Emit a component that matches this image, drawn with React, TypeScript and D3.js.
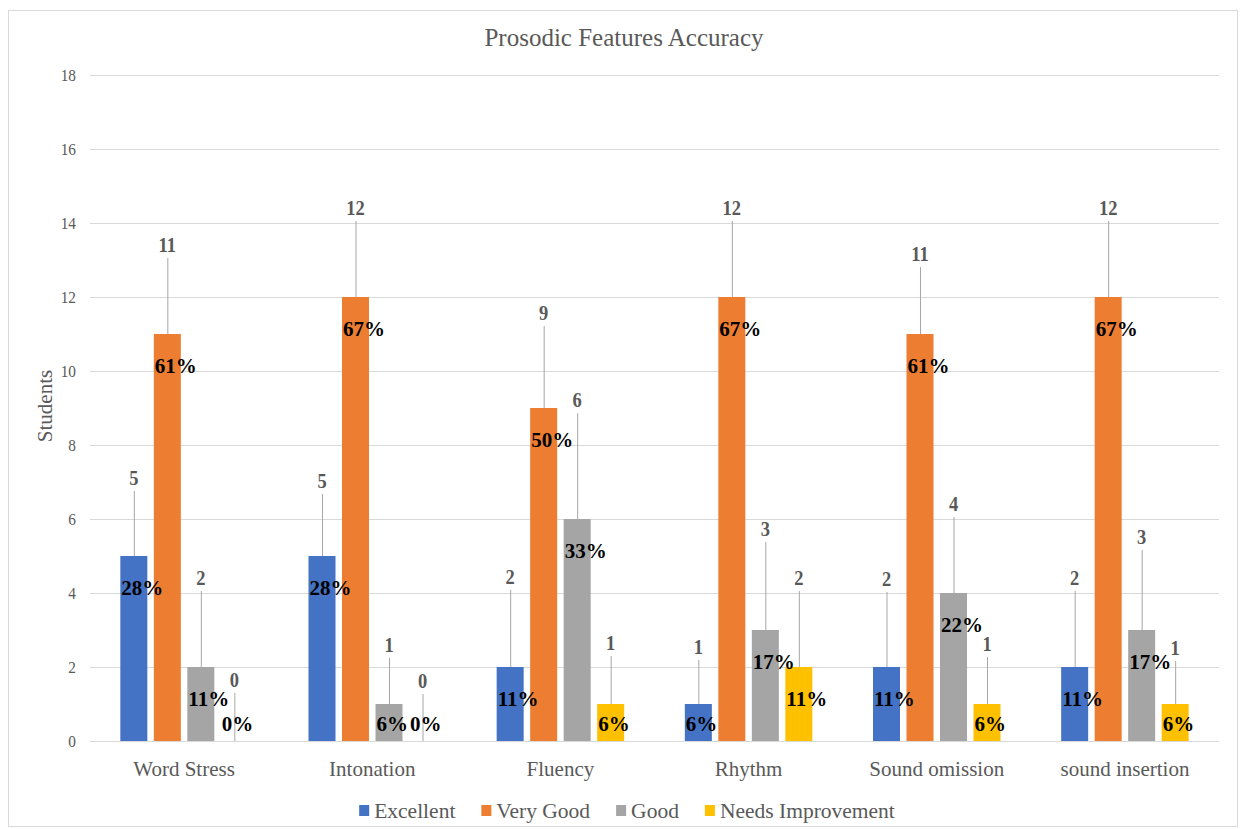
import * as d3 from "d3";

const WIDTH = 1240;
const HEIGHT = 829;
const PLOT = { left: 90, right: 1219, top: 75, bottom: 741 };
const SX = 0.9; // source picture is slightly squeezed horizontally
const FONT = "'Liberation Serif', 'Times New Roman', 'DejaVu Serif', serif";

const CATEGORIES = ["Word Stress", "Intonation", "Fluency", "Rhythm", "Sound omission", "sound insertion"];
const SERIES = ["Excellent", "Very Good", "Good", "Needs Improvement"];
const EXCELLENT = [5, 5, 2, 1, 2, 2];
const VERY_GOOD = [11, 12, 9, 12, 11, 12];
const GOOD = [2, 1, 6, 3, 4, 3];
const NEEDS_IMPROVEMENT = [0, 0, 1, 2, 1, 1];
const Y_TICKS = [0, 2, 4, 6, 8, 10, 12, 14, 16, 18];
const COLORS = ["#4472C4", "#ED7D31", "#A5A5A5", "#FFC000"];

// how far (px) each count callout was dragged above its bar
const CALLOUT_LIFT = [
  [78, 89, 89, 61],
  [75, 89, 59, 60],
  [90, 95, 119, 61],
  [57, 89, 101, 89],
  [88, 80, 89, 60],
  [89, 89, 93, 56],
];

const VALUES = [EXCELLENT, VERY_GOOD, GOOD, NEEDS_IMPROVEMENT];

const T = ({ x, y, sx = 1, children, ...rest }: any) => (
  <text transform={`translate(${x},${y}) scale(${sx},1)`} fontFamily={FONT} {...rest}>
    {children}
  </text>
);

const measure = (s: string, font: string) => {
  const ctx = document.createElement("canvas").getContext("2d")!;
  ctx.font = font;
  return ctx.measureText(s).width;
};

export default function App() {
  const x0 = d3
    .scaleBand()
    .domain(CATEGORIES)
    .range([PLOT.left, PLOT.right])
    .paddingInner(0.3224)
    .paddingOuter(0.1612);
  const x1 = d3.scaleBand().domain(SERIES).range([0, x0.bandwidth()]).paddingInner(0.194);
  const y = d3.scaleLinear().domain([0, 18]).range([PLOT.bottom, PLOT.top]);

  const totals = CATEGORIES.map((_, ci) => d3.sum(VALUES, (s) => s[ci]));

  // legend layout, centred in the frame
  const legendFont = 21.5;
  const items = SERIES.map((s) => ({ s, w: measure(s, `${legendFont}px ${FONT}`) }));
  const itemW = items.map((it) => 10 + 5 + it.w);
  const legendTotal = d3.sum(itemW) + 26 * (items.length - 1);
  let lx = 627 - legendTotal / 2;
  const legendPos = itemW.map((w) => {
    const p = lx;
    lx += w + 26;
    return p;
  });

  return (
    <svg
      width={WIDTH}
      height={HEIGHT}
      fontFamily={FONT}
      style={{ position: "absolute", left: 0, top: 0, background: "#fff" }}
    >
      <rect x={8.5} y={10.5} width={1229} height={816} fill="#fff" stroke="#d9d9d9" />
      <T x={624} y={46} fontSize={25} fill="#595959" textAnchor="middle">
        Prosodic Features Accuracy
      </T>

      {/* grid + y ticks */}
      {Y_TICKS.map((t) => (
        <g key={t}>
          <line x1={PLOT.left} x2={PLOT.right} y1={y(t) + 0.5} y2={y(t) + 0.5} stroke="#d9d9d9" />
          <T x={76} y={y(t)} dy="0.35em" sx={SX} fontSize={17} fill="#595959" textAnchor="end">
            {t}
          </T>
        </g>
      ))}
      <text
        transform={`translate(52,406) rotate(-90)`}
        fontFamily={FONT}
        fontSize={21}
        fill="#595959"
        textAnchor="middle"
      >
        Students
      </text>

      {/* bars */}
      {CATEGORIES.map((c, ci) =>
        SERIES.map((s, si) => {
          const v = VALUES[si][ci];
          const bx = (x0(c) ?? 0) + (x1(s) ?? 0);
          return (
            <rect key={c + s} x={bx} y={y(v)} width={x1.bandwidth()} height={y(0) - y(v)} fill={COLORS[si]} />
          );
        })
      )}

      {/* callouts */}
      {CATEGORIES.map((c, ci) =>
        SERIES.map((s, si) => {
          const v = VALUES[si][ci];
          const bx = (x0(c) ?? 0) + (x1(s) ?? 0);
          const cx = bx + x1.bandwidth() / 2;
          const top = y(v);
          const ly = top - CALLOUT_LIFT[ci][si];
          const py = Math.min(top + 32, y(0) - 17);
          const pct = Math.round((v / totals[ci]) * 100);
          return (
            <g key={"l" + c + s}>
              <line x1={cx + 0.5} x2={cx + 0.5} y1={ly + 13} y2={top} stroke="#a6a6a6" />
              <T x={cx} y={ly} dy="0.35em" sx={0.88} fontSize={21} fontWeight="bold" fill="#595959" textAnchor="middle">
                {v}
              </T>
              <T x={bx + 1} y={py} dy="0.35em" fontSize={21} fontWeight="bold" fill="#000">
                {pct}%
              </T>
            </g>
          );
        })
      )}

      {/* x labels */}
      {CATEGORIES.map((c) => (
        <T key={c} x={(x0(c) ?? 0) + x0.bandwidth() / 2} y={769} dy="0.35em" fontSize={21} fill="#595959" textAnchor="middle">
          {c}
        </T>
      ))}

      {/* legend */}
      {items.map((it, i) => (
        <g key={it.s}>
          <rect x={legendPos[i]} y={805} width={10} height={11} fill={COLORS[i]} />
          <T x={legendPos[i] + 15} y={810} dy="0.35em" fontSize={legendFont} fill="#595959">
            {it.s}
          </T>
        </g>
      ))}
    </svg>
  );
}
